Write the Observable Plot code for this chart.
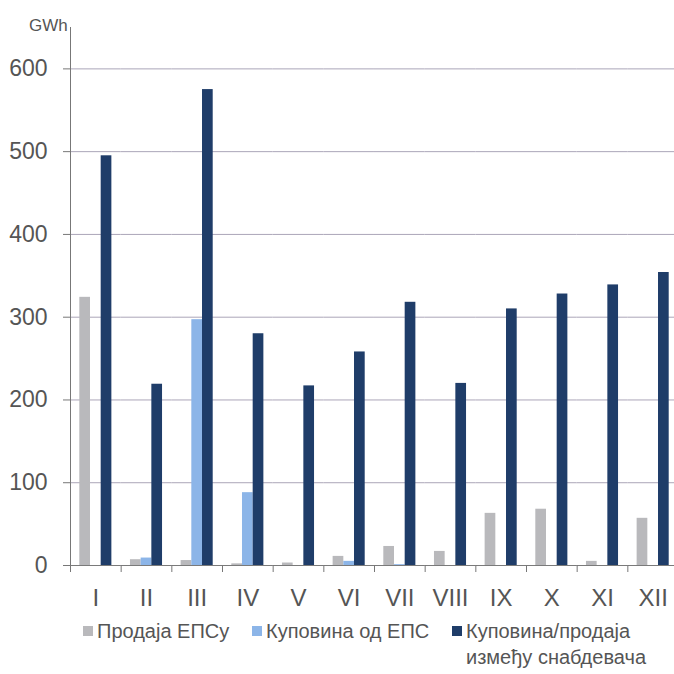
<!DOCTYPE html>
<html>
<head>
<meta charset="utf-8">
<script src="https://cdn.jsdelivr.net/npm/d3@7"></script>
<script src="https://cdn.jsdelivr.net/npm/@observablehq/plot@0.6"></script>
<style>
  html, body { margin: 0; padding: 0; background: #fff; }
  #wrap { position: relative; width: 674px; height: 674px; overflow: hidden; color: #555; }
  #unit { position: absolute; left: 29px; top: 16px; font: 17px "Liberation Sans", Arial, sans-serif; color: #555; }
  #legend { position: absolute; left: 0; top: 618px; width: 674px; height: 56px; font: 20px "Liberation Sans", Arial, sans-serif; color: #555; }
  .item { position: absolute; display: flex; align-items: flex-start; line-height: 26px; }
  .sw { width: 10px; height: 10px; margin-top: 8px; margin-right: 4px; flex: none; }
</style>
</head>
<body>
<div id="wrap">
  <div id="chart"></div>
  <div id="unit"></div>
  <div id="legend"></div>
</div>
<script>
const months = ["I", "II", "III", "IV", "V", "VI", "VII", "VIII", "IX", "X", "XI", "XII"];
const seriesNames = ["Продаја ЕПСу", "Куповина од ЕПС", "Куповина/продаја између снабдевача"];
const legendLines = [["Продаја ЕПСу"], ["Куповина од ЕПС"], ["Куповина/продаја", "између снабдевача"]];
const prodajaEPSu = [324, 7, 6, 2, 3, 11, 23, 17, 63, 68, 5, 57];
const kupovinaOdEPS = [0, 9, 297, 88, 0, 5, 1, 0, 0, 0, 0, 0];
const izmedjuSnabdevaca = [495, 219, 575, 280, 217, 258, 318, 220, 310, 328, 339, 354];
const seriesColors = ["#b9b9bc", "#8cb5e8", "#1f3d69"];
const yTicks = [0, 100, 200, 300, 400, 500, 600];
const unitLabel = "GWh";

const seriesValues = [prodajaEPSu, kupovinaOdEPS, izmedjuSnabdevaca];
const data = months.flatMap((m, i) =>
  seriesNames.map((s, k) => ({month: m, series: s, value: seriesValues[k][i]}))
);

const W = 674, H = 618, mL = 70, mR = -4, mT = 27, mB = 53;
const step = (W - mR - mL) / months.length;
const font = '"Liberation Sans", Arial, sans-serif';

const chart = Plot.plot({
  width: W,
  height: H,
  marginLeft: mL,
  marginRight: mR,
  marginTop: mT,
  marginBottom: mB,
  style: {fontFamily: font, color: "#555", background: "transparent", overflow: "hidden"},
  fx: {domain: months, padding: 0, round: false, label: null},
  x: {domain: seriesNames, paddingInner: 0, paddingOuter: 0.87, round: false, axis: null},
  y: {domain: [0, 650], label: null},
  color: {domain: seriesNames, range: seriesColors},
  marks: [
    Plot.gridY(yTicks, {stroke: "#aba6b8", strokeOpacity: 1}),
    Plot.barY(data, {fx: "month", x: "series", y: "value", fill: "series"}),
    Plot.ruleY([0], {stroke: "#7a7a7a"}),
    Plot.frame({anchor: "left", facetAnchor: "left", stroke: "#777"}),
    Plot.axisY(yTicks, {anchor: "left", tickSize: 7, tickPadding: 16, fontSize: 23, stroke: "#777", label: null}),
    Plot.axisFx({anchor: "bottom", tickSize: 0, tickPadding: 23, fontSize: 24, label: null}),
    Plot.axisFx({anchor: "bottom", tickSize: 7, tickFormat: () => "", dx: -step / 2, stroke: "#777", label: null})
  ]
});
document.getElementById("chart").appendChild(chart);
document.getElementById("unit").textContent = unitLabel;

const lefts = [83, 252, 452];
const legend = document.getElementById("legend");
seriesNames.forEach((s, k) => {
  const it = document.createElement("div");
  it.className = "item";
  it.style.left = lefts[k] + "px";
  it.style.top = "0px";
  const sw = document.createElement("div");
  sw.className = "sw";
  sw.style.background = seriesColors[k];
  const tx = document.createElement("div");
  tx.innerHTML = legendLines[k].join("<br>");
  it.appendChild(sw);
  it.appendChild(tx);
  legend.appendChild(it);
});
</script>
</body>
</html>
